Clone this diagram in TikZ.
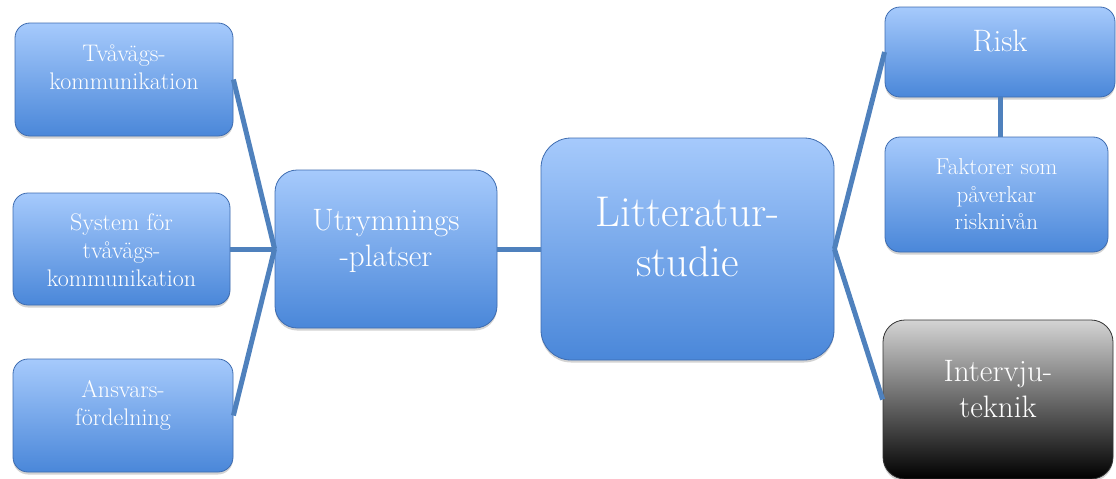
\documentclass[tikz,border=0pt]{standalone}
\usepackage{fontspec}
\usetikzlibrary{shadows}

\definecolor{boxtop}{RGB}{166,202,252}
\definecolor{boxbottom}{RGB}{74,135,217}
\definecolor{boxline}{RGB}{62,108,176}
\definecolor{greytop}{RGB}{212,212,212}
\definecolor{greymid}{RGB}{140,140,140}
\definecolor{linkblue}{RGB}{79,129,189}

\tikzset{
  box/.style={rounded corners=15pt, top color=boxtop, bottom color=boxbottom,
    draw=boxline, line width=.8pt, inner sep=0pt,
    drop shadow={shadow xshift=0pt, shadow yshift=-2.5pt, opacity=.35}},
  greybox/.style={box, top color=greytop, middle color=greymid, bottom color=black,
    draw=black!80},
  smalltext/.style={text=white, align=center, font=\fontsize{24}{28}\selectfont},
  midtext/.style={text=white, align=center, font=\fontsize{31}{36}\selectfont},
  bigtext/.style={text=white, align=center, font=\fontsize{43}{50}\selectfont},
  link/.style={draw=linkblue, line width=5pt}
}

\begin{document}
\begin{tikzpicture}[x=1pt,y=-1pt]

      \useasboundingbox (0,0) rectangle (1116,479);

      % boxes
      \node[box, minimum width=218pt, minimum height=113pt] (tva)  at (124,79.5) {};
      \node[box, minimum width=217pt, minimum height=112pt] (sys)  at (121.5,249) {};
      \node[box, minimum width=220pt, minimum height=113pt] (ans)  at (123,415.5) {};
      \node[box, rounded corners=22pt, minimum width=222pt, minimum height=158pt] (utr) at (386,249) {};
      \node[box, rounded corners=30pt, minimum width=293pt, minimum height=222pt] (lit) at (687.5,249) {};
      \node[box, minimum width=230pt, minimum height=90pt]  (risk) at (1000,52) {};
      \node[box, minimum width=223pt, minimum height=115pt] (fak)  at (996.5,194.5) {};
      \node[greybox, rounded corners=22pt, minimum width=230pt, minimum height=159pt] (int) at (998,399.5) {};

      % texts
      \node[smalltext] at ([yshift=12.5pt]tva.center)  {Tvåvägs-\\kommunikation};
      \node[smalltext] at ([yshift=-1pt]sys.center)    {System för\\tvåvägs-\\kommunikation};
      \node[smalltext] at ([yshift=10pt]ans.center)    {Ansvars-\\fördelning};
      \node[midtext]   at ([yshift=8.5pt]utr.center)   {Utrymnings\\-platser};
      \node[bigtext]   at ([yshift=12pt]lit.center)    {Litteratur-\\studie};
      \node[midtext]   at ([yshift=11pt]risk.center)   {Risk};
      \node[smalltext, font=\fontsize{23}{27.5}\selectfont] at (fak.center) {Faktorer som\\påverkar\\risknivån};
      \node[midtext]   at ([yshift=10pt]int.center)    {Intervju-\\teknik};

      % connectors
      \path[link] (tva.east) -- (utr.west);
      \path[link] (sys.east) -- (utr.west);
      \path[link] (ans.east) -- (utr.west);
      \path[link] (utr.east) -- (lit.west);
      \path[link] (lit.east) -- (risk.west);
      \path[link] (lit.east) -- (int.west);
      \path[link] (risk.south) -- (risk.south |- fak.north);

    \end{tikzpicture}
\end{document}
